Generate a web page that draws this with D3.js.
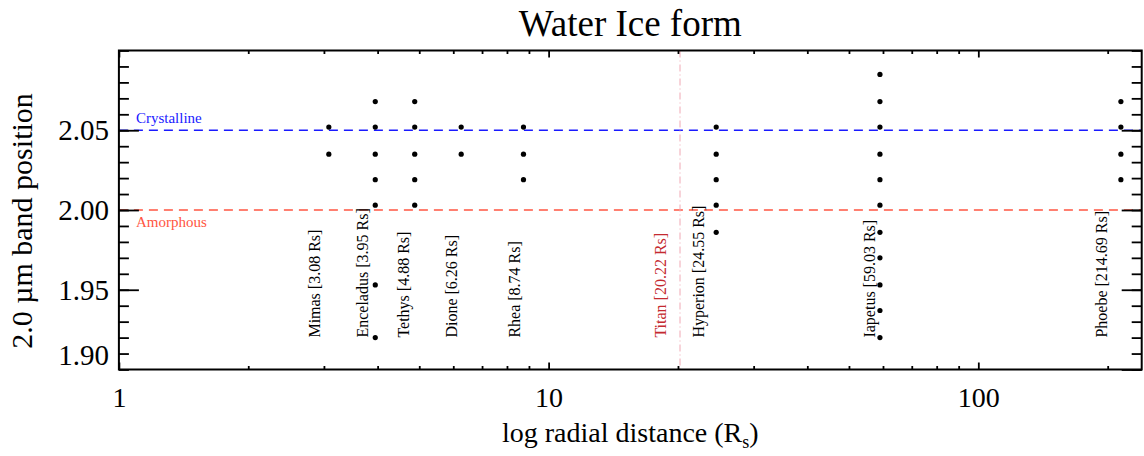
<!DOCTYPE html>
<html>
<head>
<meta charset="utf-8">
<script src="https://cdn.jsdelivr.net/npm/d3@7"></script>
<style>
  body { margin: 0; background: #fff; }
  text { font-family: "Liberation Serif", "Times New Roman", serif; }
</style>
</head>
<body>
<div id="chart"></div>
<script>
// data
var moons = ['Mimas', 'Enceladus', 'Tethys', 'Dione', 'Rhea', 'Titan', 'Hyperion', 'Iapetus', 'Phoebe'];
var distances = [3.08, 3.95, 4.88, 6.26, 8.74, 20.22, 24.55, 59.03, 214.69];
var bandPositions = [
  [2.052, 2.035],
  [2.068, 2.052, 2.035, 2.019, 2.003, 1.953, 1.920],
  [2.068, 2.052, 2.035, 2.019, 2.003],
  [2.052, 2.035],
  [2.052, 2.035, 2.019],
  [],
  [2.052, 2.035, 2.019, 2.003, 1.986],
  [2.085, 2.068, 2.052, 2.035, 2.019, 2.003, 1.986, 1.970, 1.953, 1.937, 1.920],
  [2.068, 2.052, 2.035, 2.019]
];
var iceForms = ['Crystalline', 'Amorphous'];
var iceBand = [2.05, 2.00];
var iceColors = ['#1a1aff', '#ff5542'];
var xTicks = [1, 10, 100];
var yTicks = [1.90, 1.95, 2.00, 2.05];

//dims
var width = 1144;
var height = 456;
var margin = { top: 50.5, right: 2.3, bottom: 86.5, left: 118.9 };
var innerW = width - margin.left - margin.right;
var innerH = height - margin.top - margin.bottom;

var svg = d3.select('#chart')
  .append('svg')
  .attr('width', width)
  .attr('height', height);

var g = svg.append('g')
  .attr('transform', 'translate(' + margin.left + ',' + margin.top + ')');

//scales
var x = d3.scaleLog().domain([1, 240]).range([0, innerW]);
var y = d3.scaleLinear().domain([1.90, 2.10]).range([innerH, 0]);

var xMinor = [];
[1, 10, 100].forEach(function(dec) {
  for (var k = 2; k <= 9; k++) {
    if (dec * k < 240) xMinor.push(dec * k);
  }
});
var yMinor = d3.range(190, 211).map(function(v) { return v / 100; });

//reference lines
iceBand.forEach(function(v, i) {
  g.append('line')
    .attr('x1', 0).attr('x2', innerW)
    .attr('y1', y(v)).attr('y2', y(v))
    .attr('stroke', iceColors[i])
    .attr('stroke-width', 1.4)
    .attr('stroke-dasharray', '9,6');
  g.append('text')
    .attr('x', 17)
    .attr('y', i === 0 ? y(v) - 7.5 : y(v) + 16.5)
    .attr('fill', iceColors[i])
    .style('font-size', '15px')
    .text(iceForms[i]);
});

//moon labels, Titan (no points) gets a vertical marker
moons.forEach(function(name, i) {
  var d = distances[i];
  var noData = bandPositions[i].length === 0;
  if (noData) {
    g.append('line')
      .attr('x1', x(d)).attr('x2', x(d))
      .attr('y1', 0).attr('y2', innerH)
      .attr('stroke', '#f0a8b4')
      .attr('stroke-width', 1)
      .attr('stroke-dasharray', '7,3,1,3');
  }
  var off = 0.15 * Math.pow(10, Math.floor(Math.log10(d)));
  var lx = x(d - off);
  var ly = y(1.92);
  g.append('text')
    .attr('transform', 'translate(' + lx + ',' + ly + ') rotate(-90)')
    .attr('fill', noData ? '#c42a30' : '#000')
    .style('font-size', '16px')
    .text(name + ' [' + d.toFixed(2) + ' Rs]');
});

//points
var pts = [];
moons.forEach(function(name, i) {
  bandPositions[i].forEach(function(v) { pts.push({ d: distances[i], v: v }); });
});
g.selectAll('circle.pt')
  .data(pts)
  .enter()
  .append('circle')
  .attr('class', 'pt')
  .attr('cx', function(p) { return x(p.d); })
  .attr('cy', function(p) { return y(p.v); })
  .attr('r', 2.6)
  .attr('fill', '#000');

//axes
function styleAxis(sel) {
  sel.select('.domain').remove();
  sel.selectAll('line').attr('stroke', '#000').attr('stroke-width', 1.8);
}

var left = g.append('g')
  .call(d3.axisLeft(y).tickValues(yTicks).tickSize(-20).tickPadding(10)
    .tickFormat(d3.format('.2f')));
styleAxis(left);
left.selectAll('text')
  .style('font-size', '29px')
  .attr('fill', '#000')
  .attr('dy', function(d) { return d === 1.90 ? '-0.16em' : '0.32em'; });
left.selectAll('.tick')
  .filter(function(d) { return d === 1.90; })
  .select('line').remove();

g.append('g').call(d3.axisLeft(y).tickValues(yMinor).tickSize(-10).tickFormat(''))
  .call(styleAxis);
g.append('g').attr('transform', 'translate(' + innerW + ',0)')
  .call(d3.axisRight(y).tickValues(yTicks).tickSize(-20).tickFormat(''))
  .call(styleAxis);
g.append('g').attr('transform', 'translate(' + innerW + ',0)')
  .call(d3.axisRight(y).tickValues(yMinor).tickSize(-10).tickFormat(''))
  .call(styleAxis);

var bottom = g.append('g').attr('transform', 'translate(0,' + innerH + ')')
  .call(d3.axisBottom(x).tickValues(xTicks).tickSize(-7).tickFormat(d3.format('d')));
styleAxis(bottom);
bottom.selectAll('text')
  .style('font-size', '28px')
  .attr('fill', '#000')
  .attr('y', 37.5)
  .attr('dy', 0);
g.append('g').attr('transform', 'translate(0,' + innerH + ')')
  .call(d3.axisBottom(x).tickValues(xMinor).tickSize(-3.5).tickFormat(''))
  .call(styleAxis);
g.append('g')
  .call(d3.axisTop(x).tickValues(xTicks).tickSize(-7).tickFormat(''))
  .call(styleAxis);
g.append('g')
  .call(d3.axisTop(x).tickValues(xMinor).tickSize(-3.5).tickFormat(''))
  .call(styleAxis);

//frame
g.append('rect')
  .attr('width', innerW)
  .attr('height', innerH)
  .attr('fill', 'none')
  .attr('stroke', '#000')
  .attr('stroke-width', 2);

//titles
svg.append('text')
  .attr('x', margin.left + innerW / 2)
  .attr('y', 36)
  .attr('text-anchor', 'middle')
  .style('font-size', '37px')
  .text('Water Ice form');

var xt = svg.append('text')
  .attr('x', margin.left + innerW / 2)
  .attr('y', 441.7)
  .attr('text-anchor', 'middle')
  .style('font-size', '28px');
xt.append('tspan').text('log radial distance (R');
xt.append('tspan').attr('dy', 6).style('font-size', '18px').text('s');
xt.append('tspan').attr('dy', -6).text(')');

svg.append('text')
  .attr('transform', 'translate(32,221) rotate(-90)')
  .attr('text-anchor', 'middle')
  .style('font-size', '30px')
  .text('2.0 \u00b5m band position');
</script>
</body>
</html>
